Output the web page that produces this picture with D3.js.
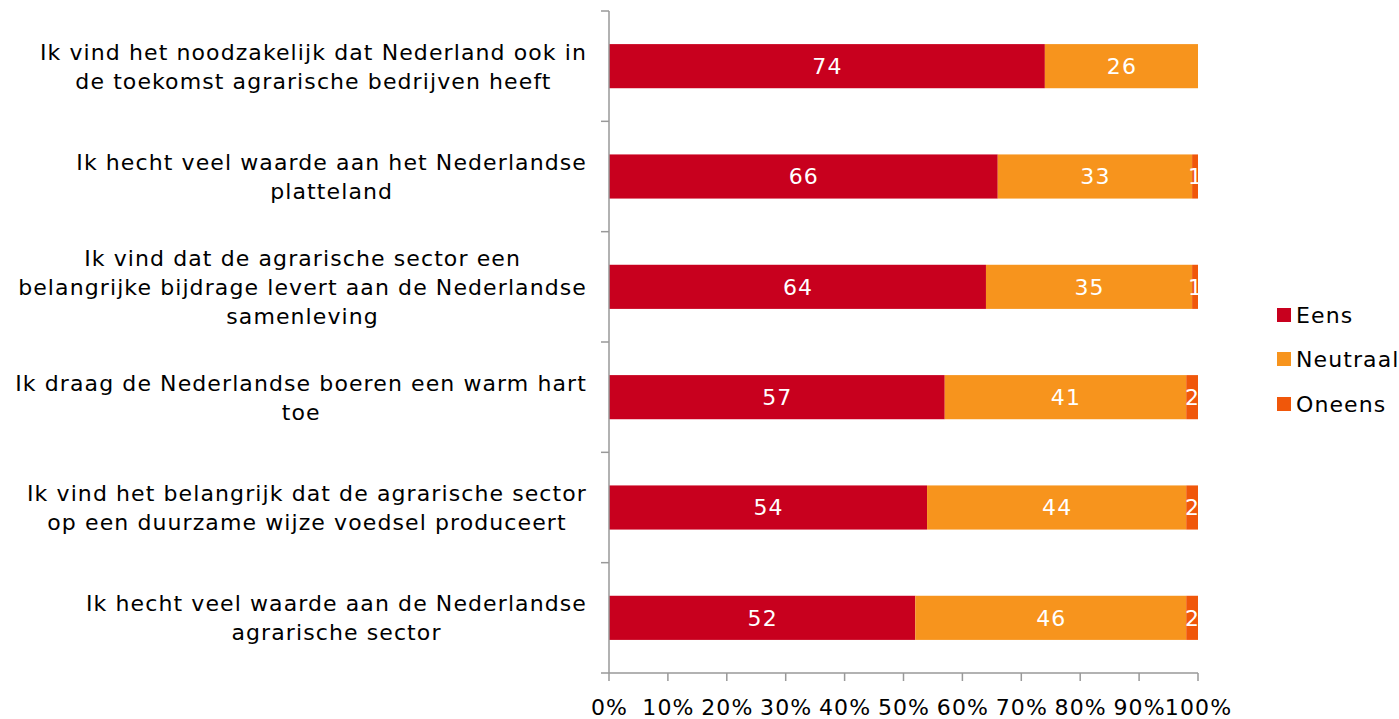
<!DOCTYPE html>
<html><head><meta charset="utf-8">
<script src="https://cdn.jsdelivr.net/npm/d3@7"></script>
<style>body{margin:0;background:#fff;} svg{display:block;font-family:"DejaVu Sans",Verdana,sans-serif;} text{letter-spacing:1.1px;}</style>
</head><body>
<svg id="c" width="1399" height="719"></svg>
<script>
const categories = [
  ["Ik vind het noodzakelijk dat Nederland ook in","de toekomst agrarische bedrijven heeft"],
  ["Ik hecht veel waarde aan het Nederlandse","platteland"],
  ["Ik vind dat de agrarische sector een","belangrijke bijdrage levert aan de Nederlandse","samenleving"],
  ["Ik draag de Nederlandse boeren een warm hart","toe"],
  ["Ik vind het belangrijk dat de agrarische sector","op een duurzame wijze voedsel produceert"],
  ["Ik hecht veel waarde aan de Nederlandse","agrarische sector"]
];
const seriesNames = ["Eens","Neutraal","Oneens"];
const eens = [74,66,64,57,54,52];
const neutraal = [26,33,35,41,44,46];
const oneens = [0,1,1,2,2,2];
const tickLabels = ["0%","10%","20%","30%","40%","50%","60%","70%","80%","90%","100%"];
const colors = ["#C8001E","#F7941D","#F0570A"];

const svg = d3.select("#c");
const FS = 22;
const pL = 609, pR = 1198, pT = 11, pB = 673;
const x = d3.scaleLinear().domain([0,100]).range([pL,pR]);
const y = d3.scaleBand().domain(d3.range(categories.length)).range([pT,pB]).paddingInner(0.6).paddingOuter(0.3);
const series = [eens,neutraal,oneens];

// bars
categories.forEach((c,i)=>{
  let acc = 0;
  series.forEach((s,k)=>{
    const v = s[i];
    if (v>0){
      svg.append("rect").attr("x",x(acc)).attr("y",y(i)).attr("width",x(acc+v)-x(acc)).attr("height",y.bandwidth()).attr("fill",colors[k]);
      svg.append("text").attr("x",(x(acc)+x(acc+v))/2+0.5).attr("y",y(i)+y.bandwidth()/2).attr("dy","0.36em")
        .attr("text-anchor","middle").attr("fill","#fff").attr("font-size",FS).text(v);
    }
    acc += v;
  });
});

// axes
const grey = "#999";
svg.append("line").attr("x1",pL).attr("x2",pL).attr("y1",pT).attr("y2",pB).attr("stroke",grey).attr("stroke-width",1.5);
svg.append("line").attr("x1",pL).attr("x2",pR).attr("y1",pB).attr("y2",pB).attr("stroke",grey).attr("stroke-width",1.5);
const step = (pB-pT)/categories.length;
d3.range(categories.length+1).forEach(j=>{
  const yy = pT + j*step;
  svg.append("line").attr("x1",pL-8).attr("x2",pL).attr("y1",yy).attr("y2",yy).attr("stroke",grey).attr("stroke-width",1.5);
});
tickLabels.forEach((t,j)=>{
  const xx = x(j*10);
  svg.append("line").attr("x1",xx).attr("x2",xx).attr("y1",pB).attr("y2",pB+8).attr("stroke",grey).attr("stroke-width",1.5);
  svg.append("text").attr("x",xx+0.5).attr("y",715).attr("text-anchor","middle").attr("font-size",FS).attr("fill","#000").text(t);
});

// category labels
const lh = 29;
categories.forEach((lines,i)=>{
  const cy = y(i)+y.bandwidth()/2;
  const g = svg.append("g");
  const texts = lines.map((l,li)=> g.append("text").attr("font-size",FS).attr("fill","#000")
     .attr("y", cy + (li-(lines.length-1)/2)*lh).attr("dy","0.36em").text(l));
  const maxW = d3.max(texts, t=>t.node().getComputedTextLength());
  const cx = 587 - maxW/2;
  texts.forEach(t=>t.attr("x",cx).attr("text-anchor","middle"));
});

// legend
const ly = [315,359,404];
seriesNames.forEach((n,k)=>{
  svg.append("rect").attr("x",1277).attr("y",ly[k]-7).attr("width",14).attr("height",14).attr("fill",colors[k]);
  svg.append("text").attr("x",1296).attr("y",ly[k]).attr("dy","0.36em").attr("font-size",FS).attr("fill","#000").text(n);
});
</script>
</body></html>
